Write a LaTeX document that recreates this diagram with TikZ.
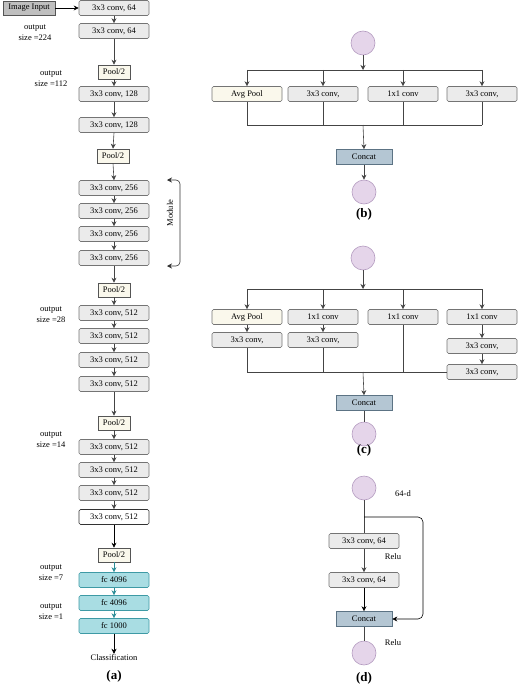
\documentclass[tikz,border=0pt]{standalone}
\usepackage{fontspec}
\setmainfont{Liberation Serif}
\usetikzlibrary{arrows.meta}
\definecolor{boxgray}{HTML}{EBEBEB}
\definecolor{bordergray}{HTML}{747474}
\definecolor{cream}{HTML}{FAF8EC}
\definecolor{poolborder}{HTML}{555555}
\definecolor{inputfill}{HTML}{BFBFBF}
\definecolor{fcfill}{HTML}{A9DDE3}
\definecolor{fcborder}{HTML}{3E9AA5}
\definecolor{tealarr}{HTML}{2A8C96}
\definecolor{concatfill}{HTML}{B4C6D3}
\definecolor{concatborder}{HTML}{5C7384}
\definecolor{circfill}{HTML}{E5D5EA}
\definecolor{circborder}{HTML}{B49BC0}
\definecolor{linecol}{HTML}{444444}
\definecolor{darkline}{HTML}{333333}
\begin{document}
\begin{tikzpicture}[x=1pt,y=-1pt,
 base/.style={font=\fontsize{8.5}{11}\selectfont, inner sep=1pt},
 convbox/.style={base, rectangle, rounded corners=1.5pt, draw=bordergray, fill=boxgray, minimum width=70pt, minimum height=15pt, line width=0.6pt},
 whitebox/.style={convbox, fill=white, draw=darkline},
 poolbox/.style={base, rectangle, draw=poolborder, fill=cream, minimum width=32pt, minimum height=14pt, line width=0.6pt},
 avgbox/.style={convbox, fill=cream},
 fcbox/.style={convbox, fill=fcfill, draw=fcborder},
 inputbox/.style={base, rectangle, draw=poolborder, fill=inputfill, minimum width=52pt, minimum height=14pt, line width=0.6pt},
 concatbox/.style={base, rectangle, draw=concatborder, fill=concatfill, minimum width=56pt, minimum height=15pt, line width=0.6pt},
 circ/.style={circle, draw=circborder, fill=circfill, minimum size=24pt, inner sep=0pt, line width=0.6pt},
 arr/.style={draw=linecol, line width=0.6pt, -{Stealth[length=5pt,width=5pt]}},
 barr/.style={arr, draw=black},
 tarr/.style={arr, draw=tealarr},
 ln/.style={draw=linecol, line width=0.6pt},
 lbl/.style={base, align=center},
 subcap/.style={font=\bfseries\fontsize{13}{15}\selectfont},
]
\useasboundingbox (0,0) rectangle (518,685);
% ---------------- (a) ----------------
\node[inputbox] (ii) at (29,8) {Image Input};
\node[convbox] (a1) at (114,8) {3x3 conv, 64};
\node[convbox] (a2) at (114,31) {3x3 conv, 64};
\node[poolbox] (p1) at (114,72) {Pool/2};
\node[convbox] (a3) at (114,94) {3x3 conv, 128};
\node[convbox] (a4) at (114,125) {3x3 conv, 128};
\node[poolbox] (p2) at (113,156) {Pool/2};
\node[convbox] (a5) at (114,188) {3x3 conv, 256};
\node[convbox] (a6) at (114,211) {3x3 conv, 256};
\node[convbox] (a7) at (114,234) {3x3 conv, 256};
\node[convbox] (a8) at (114,258) {3x3 conv, 256};
\node[poolbox] (p3) at (114,290) {Pool/2};
\node[convbox] (a9) at (114,313) {3x3 conv, 512};
\node[convbox] (a10) at (114,336) {3x3 conv, 512};
\node[convbox] (a11) at (114,360) {3x3 conv, 512};
\node[convbox] (a12) at (114,384) {3x3 conv, 512};
\node[poolbox] (p4) at (114,423) {Pool/2};
\node[convbox] (a13) at (114,447) {3x3 conv, 512};
\node[convbox] (a14) at (114,470) {3x3 conv, 512};
\node[convbox] (a15) at (114,493) {3x3 conv, 512};
\node[whitebox] (a16) at (114,517) {3x3 conv, 512};
\node[poolbox] (p5) at (114,555) {Pool/2};
\node[fcbox] (f1) at (114,580) {fc 4096};
\node[fcbox] (f2) at (114,603) {fc 4096};
\node[fcbox] (f3) at (114,626) {fc 1000};
\node[base] (cls) at (114,658) {Classification};
\node[subcap] (capa) at (114,676) {(a)};

\node[lbl] (o224) at (35,33) {output\\size =224};
\node[lbl] (o112) at (51,79) {output\\size =112};
\node[lbl] (o28) at (51,315) {output\\size =28};
\node[lbl] (o14) at (51,440) {output\\size =14};
\node[lbl] (o7) at (51,573) {output\\size =7};
\node[lbl] (o1) at (51,612) {output\\size =1};

\draw[barr] (ii) -- (a1);
\foreach \u/\v in {a1/a2,a2/p1,p1/a3,a3/a4,a4/p2,p2/a5,a5/a6,a6/a7,a7/a8,a8/p3,p3/a9,a9/a10,a10/a11,a11/a12,a12/p4,p4/a13,a13/a14,a14/a15,a15/a16}
  \draw[arr] (\u.south) -- (\v.north);
\draw[barr] (a16.south) -- (p5.north);
\draw[tarr] (p5.south) -- (f1.north);
\draw[tarr] (f1.south) -- (f2.north);
\draw[tarr] (f2.south) -- (f3.north);
\draw[barr] (f3.south) -- (cls.north);

% Module bracket
\coordinate (mt) at (167,180);
\coordinate (mb) at (167,266);
\draw[line width=0.6pt, draw=darkline, {Stealth[length=5pt,width=5pt]}-{Stealth[length=5pt,width=5pt]}, rounded corners=4pt]
  (mt) -- (180,180) -- (180,266) -- (mb);
\node[base, rotate=90] (mod) at (170,213) {Module};

% ---------------- (b) ----------------
\node[circ] (bt) at (363,43) {};
\coordinate (bj) at (363,70);
\node[avgbox] (b1) at (247,94) {Avg Pool};
\node[convbox] (b2) at (323,94) {3x3 conv,};
\node[convbox] (b3) at (403,94) {1x1 conv};
\node[convbox] (b4) at (482,94) {3x3 conv,};
\coordinate (bm) at (363,125);
\node[concatbox] (bc) at (364,157) {Concat};
\node[circ] (bb) at (364,192) {};
\node[subcap] (capb) at (364,214) {(b)};

\draw[arr] (bt.south) -- (bj);
\draw[ln] (b1.north |- bj) -- (b4.north |- bj);
\foreach \n in {b1,b2,b3,b4} \draw[arr] (\n.north |- bj) -- (\n.north);
\foreach \n in {b1,b2,b3,b4} \draw[ln] (\n.south) -- (\n.south |- bm);
\draw[ln] (b1.south |- bm) -- (b4.south |- bm);
\draw[arr] (bm) -- (bc.north);
\draw[arr] (bc.south) -- (bb.north);

% ---------------- (c) ----------------
\node[circ] (ct) at (363,258) {};
\coordinate (cj) at (363,289);
\node[avgbox] (c1) at (247,317) {Avg Pool};
\node[convbox] (c1b) at (247,340) {3x3 conv,};
\node[convbox] (c2) at (323,317) {1x1 conv};
\node[convbox] (c2b) at (323,340) {3x3 conv,};
\node[convbox] (c3) at (403,317) {1x1 conv};
\node[convbox] (c4) at (482,317) {1x1 conv};
\node[convbox] (c4b) at (482,346) {3x3 conv,};
\node[convbox] (c4c) at (482,372) {3x3 conv,};
\coordinate (cm) at (363,372);
\node[concatbox] (cc) at (364,403) {Concat};
\node[circ] (cb) at (364,434) {};
\node[subcap] (capc) at (364,450) {(c)};

\draw[arr] (ct.south) -- (cj);
\draw[ln] (c1.north |- cj) -- (c4.north |- cj);
\foreach \n in {c1,c2,c3,c4} \draw[arr] (\n.north |- cj) -- (\n.north);
\draw[arr] (c1.south) -- (c1b.north);
\draw[arr] (c2.south) -- (c2b.north);
\draw[arr] (c4.south) -- (c4b.north);
\draw[arr] (c4b.south) -- (c4c.north);
\draw[ln] (c1b.south) -- (c1b.south |- cm);
\draw[ln] (c2b.south) -- (c2b.south |- cm);
\draw[ln] (c3.south) -- (c3.south |- cm);
\draw[ln] (c1b.south |- cm) -- (c4c.west);
\draw[arr] (cm) -- (cc.north);
\draw[ln] (cc.south) -- (cb.north);

% ---------------- (d) ----------------
\node[circ] (dt) at (364,488) {};
\node[base] (d64) at (403,494) {64-d};
\coordinate (dj) at (364,517);
\coordinate (dr) at (423,517);
\node[convbox] (d1) at (364,541) {3x3 conv, 64};
\node[base] (dr1) at (393,557) {Relu};
\node[convbox] (d2) at (364,580) {3x3 conv, 64};
\node[concatbox] (dc) at (364,619) {Concat};
\node[base] (dr2) at (393,643) {Relu};
\node[circ] (db) at (364,653) {};
\node[subcap] (capd) at (364,678) {(d)};

\draw[ln] (dt.south) -- (d1.north);
\draw[arr] (d1.south) -- (d2.north);
\draw[barr] (d2.south) -- (dc.north);
\draw[ln] (dc.south) -- (db.north);
\draw[barr, rounded corners=5pt] (dj) -- (dr) -- (dr |- dc.east) -- (dc.east);
\end{tikzpicture}
\end{document}
